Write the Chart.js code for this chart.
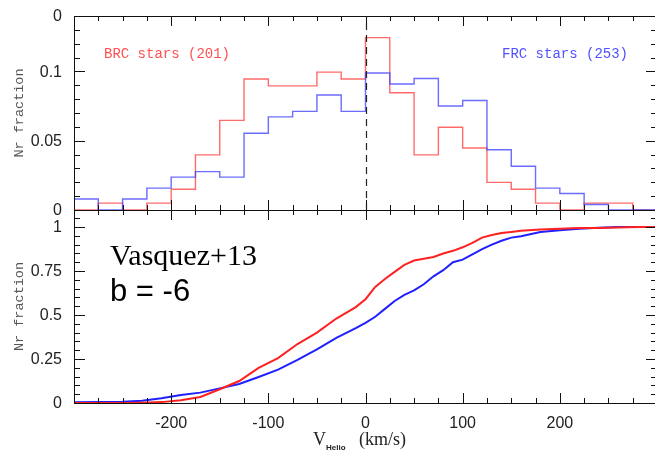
<!DOCTYPE html>
<html>
<head>
<meta charset="utf-8">
<script src="https://cdn.jsdelivr.net/npm/chart.js@4.4.1/dist/chart.umd.min.js"></script>
<style>
  html, body { margin: 0; padding: 0; background: #fff; overflow: hidden; }
  #wrap { position: relative; width: 655px; height: 452px; overflow: hidden; }
  #topBox { position: absolute; left: 0; top: 0; width: 660px; height: 224px; }
  #botBox { position: absolute; left: 0; top: 208px; width: 660px; height: 244px; }
</style>
</head>
<body>
<div id="wrap">
  <div id="topBox"><canvas id="histChart"></canvas></div>
  <div id="botBox"><canvas id="cdfChart"></canvas></div>
</div>
<script>
// velocity bins (km/s), 25 km/s wide
const binEdges = [-300, -275, -250, -225, -200, -175, -150, -125, -100, -75, -50, -25,
                  0, 25, 50, 75, 100, 125, 150, 175, 200, 225, 250, 275, 300];
// star counts per bin
const brcCounts = [0, 1, 0, 1, 3, 8, 13, 19, 18, 18, 20, 19, 25, 17, 8, 12, 9, 4, 3, 1, 0, 1, 1, 0];
const frcCounts = [2, 0, 2, 4, 6, 7, 6, 14, 17, 18, 21, 18, 25, 23, 24, 19, 20, 11, 8, 4, 3, 1, 0, 0];
const brcTotal = 201;
const frcTotal = 253;

// cumulative fractions
const cdfVel = [-300, -250, -230, -210, -190, -170, -150, -130, -110, -90, -70, -50, -30, -10,
                0, 10, 20, 30, 40, 50, 60, 70, 80, 90, 100, 110, 120, 130, 140, 150, 160,
                180, 200, 220, 240, 260, 280, 300];
const brcCdf = [0, 0, 0.002, 0.005, 0.016, 0.034, 0.078, 0.125, 0.20, 0.255, 0.335, 0.40, 0.48, 0.545,
                0.59, 0.66, 0.705, 0.745, 0.785, 0.81, 0.82, 0.83, 0.85, 0.865, 0.885, 0.91, 0.94, 0.955, 0.966, 0.972, 0.979,
                0.986, 0.99, 0.994, 0.995, 0.998, 1.0, 1.0];
const frcCdf = [0.004, 0.007, 0.013, 0.027, 0.045, 0.059, 0.083, 0.108, 0.148, 0.19, 0.245, 0.305, 0.37, 0.425,
                0.455, 0.49, 0.535, 0.58, 0.615, 0.64, 0.675, 0.72, 0.755, 0.80, 0.815, 0.845, 0.875, 0.90, 0.922, 0.94, 0.948,
                0.972, 0.982, 0.99, 0.996, 1.0, 1.0, 1.0];

// axis ticks
const xLabelTicks = [-200, -100, 0, 100, 200];
const histYTicks = [0, 0.05, 0.1];
const cdfYTicks = [0, 0.25, 0.5, 0.75, 1];

function histPoints(counts, total) {
  const pts = counts.map((c, i) => ({ x: binEdges[i], y: c / total }));
  pts.push({ x: binEdges[binEdges.length - 1], y: counts[counts.length - 1] / total });
  return pts;
}

const tickFont = '16px "Liberation Sans"';
const monoFont = '13.5px "Liberation Mono"';

// frame with inward ticks on all four sides, plus tick labels
const framePlugin = {
  id: 'frame',
  afterDatasetsDraw(chart, args, o) {
    const { ctx, chartArea: a, scales: { x, y } } = chart;
    ctx.save();
    ctx.strokeStyle = '#111';
    ctx.lineWidth = 1;
    ctx.strokeRect(Math.round(a.left) + 0.5, Math.round(a.top) + 0.5,
                   Math.round(a.right - a.left), Math.round(a.bottom - a.top));
    ctx.beginPath();
    const nx = Math.round((x.max - x.min) / o.xMinor);
    for (let i = 0; i <= nx; i++) {
      const v = x.min + i * o.xMinor;
      const px = Math.round(x.getPixelForValue(v)) + 0.5;
      const major = Math.abs(v / o.xMajor - Math.round(v / o.xMajor)) < 1e-6;
      const len = major ? 10 : 5;
      ctx.moveTo(px, a.bottom); ctx.lineTo(px, a.bottom - len);
      ctx.moveTo(px, a.top); ctx.lineTo(px, a.top + len);
    }
    const ny = Math.floor((y.max - y.min) / o.yMinor + 1e-6);
    for (let i = 0; i <= ny; i++) {
      const v = y.min + i * o.yMinor;
      const py = Math.round(y.getPixelForValue(v)) + 0.5;
      const major = Math.abs(v / o.yMajor - Math.round(v / o.yMajor)) < 1e-6;
      const len = major ? 11 : 6;
      ctx.moveTo(a.left, py); ctx.lineTo(a.left + len, py);
      ctx.moveTo(a.right, py); ctx.lineTo(a.right - len, py);
    }
    ctx.stroke();

    ctx.font = tickFont;
    ctx.fillStyle = '#222';
    ctx.textBaseline = 'middle';
    ctx.textAlign = 'right';
    y.ticks.forEach(t => ctx.fillText(String(t.value), a.left - 12, y.getPixelForValue(t.value) + 1));
    if (o.xLabels) {
      ctx.textAlign = 'center';
      x.ticks.forEach(t => ctx.fillText(String(t.value), x.getPixelForValue(t.value), a.bottom + 21));
    }
    ctx.restore();
  }
};

function yTitle(ctx, cy) {
  ctx.save();
  ctx.translate(19, cy);
  ctx.rotate(-Math.PI / 2);
  ctx.font = monoFont;
  ctx.fillStyle = '#555';
  ctx.textAlign = 'center';
  ctx.textBaseline = 'middle';
  ctx.fillText('Nr fraction', 0, 0);
  ctx.restore();
}

const histDecor = {
  id: 'histDecor',
  afterDraw(chart) {
    const { ctx, chartArea: a, scales: { x } } = chart;
    ctx.save();
    // zero-velocity marker
    const px = Math.round(x.getPixelForValue(0)) + 0.5;
    ctx.strokeStyle = '#222';
    ctx.lineWidth = 1.2;
    ctx.setLineDash([7, 5]);
    ctx.beginPath();
    ctx.moveTo(px, a.bottom); ctx.lineTo(px, a.top);
    ctx.stroke();
    ctx.setLineDash([]);
    ctx.font = '14px "Liberation Mono"';
    ctx.textBaseline = 'middle';
    ctx.fillStyle = 'rgb(255,80,80)';
    ctx.fillText('BRC stars (' + brcTotal + ')', 104, 54);
    ctx.fillStyle = 'rgb(80,80,255)';
    ctx.fillText('FRC stars (' + frcTotal + ')', 502, 54);
    // "0" left over from the panel above
    ctx.font = tickFont;
    ctx.fillStyle = '#222';
    ctx.textAlign = 'right';
    ctx.fillText('0', a.left - 12, a.top + 1);
    ctx.restore();
    yTitle(ctx, (a.top + a.bottom) / 2);
  }
};

const cdfDecor = {
  id: 'cdfDecor',
  afterDraw(chart) {
    const { ctx, chartArea: a } = chart;
    ctx.save();
    ctx.fillStyle = '#000';
    ctx.textBaseline = 'alphabetic';
    ctx.font = '30px "Liberation Serif"';
    ctx.fillText('Vasquez+13', 110, 57);
    ctx.font = '31px "Liberation Sans"';
    ctx.fillText('b = -6', 110, 93);
    // x axis title
    ctx.fillStyle = '#222';
    ctx.font = '18px "Liberation Serif"';
    ctx.fillText('V', 313, 237);
    ctx.font = 'bold 8px "Liberation Sans"';
    ctx.fillText('Helio', 326, 242);
    ctx.font = '18px "Liberation Serif"';
    ctx.fillText('(km/s)', 359, 237);
    ctx.restore();
    yTitle(ctx, (a.top + a.bottom) / 2);
  }
};

function xScale(h) {
  return {
    type: 'linear', min: -300, max: 300,
    grid: { display: false, drawTicks: false },
    border: { display: false },
    afterBuildTicks: s => { s.ticks = xLabelTicks.map(v => ({ value: v })); },
    afterFit: s => { s.height = h; },
    ticks: { display: false }
  };
}

function yScale(max, ticks) {
  return {
    type: 'linear', min: 0, max: max,
    grid: { display: false, drawTicks: false },
    border: { display: false },
    afterBuildTicks: s => { s.ticks = ticks.map(v => ({ value: v })); },
    afterFit: s => { s.width = 74; },
    ticks: { display: false }
  };
}

const noLegend = { legend: { display: false }, tooltip: { enabled: false } };

new Chart(document.getElementById('histChart'), {
  type: 'line',
  data: {
    datasets: [
      { data: histPoints(frcCounts, frcTotal), stepped: 'before', borderColor: 'rgba(70,70,255,0.8)',
        borderWidth: 1.4, pointRadius: 0, fill: false, clip: 3 },
      { data: histPoints(brcCounts, brcTotal), stepped: 'before', borderColor: 'rgba(255,70,70,0.8)',
        borderWidth: 1.4, pointRadius: 0, fill: false, clip: 3 }
    ]
  },
  options: {
    responsive: true, maintainAspectRatio: false, animation: false,
    layout: { padding: { top: 16, right: 3, left: 0, bottom: 0 } },
    scales: { x: xScale(14), y: yScale(0.14, histYTicks) },
    plugins: Object.assign({ frame: { xMinor: 25, xMajor: 100, yMinor: 0.01, yMajor: 0.05, xLabels: false } }, noLegend)
  },
  plugins: [framePlugin, histDecor]
});

new Chart(document.getElementById('cdfChart'), {
  type: 'line',
  data: {
    datasets: [
      { data: cdfVel.map((v, i) => ({ x: v, y: brcCdf[i] })), borderColor: '#ff2020',
        borderWidth: 2, pointRadius: 0, tension: 0, fill: false, clip: 3 },
      { data: cdfVel.map((v, i) => ({ x: v, y: frcCdf[i] })), borderColor: '#2020ff',
        borderWidth: 2, pointRadius: 0, tension: 0, fill: false, clip: 3 }
    ]
  },
  options: {
    responsive: true, maintainAspectRatio: false, animation: false,
    layout: { padding: { top: 2, right: 3, left: 0, bottom: 0 } },
    scales: { x: xScale(49), y: yScale(1.097, cdfYTicks) },
    plugins: Object.assign({ frame: { xMinor: 25, xMajor: 100, yMinor: 0.05, yMajor: 0.25, xLabels: true } }, noLegend)
  },
  plugins: [framePlugin, cdfDecor]
});
</script>
</body>
</html>
